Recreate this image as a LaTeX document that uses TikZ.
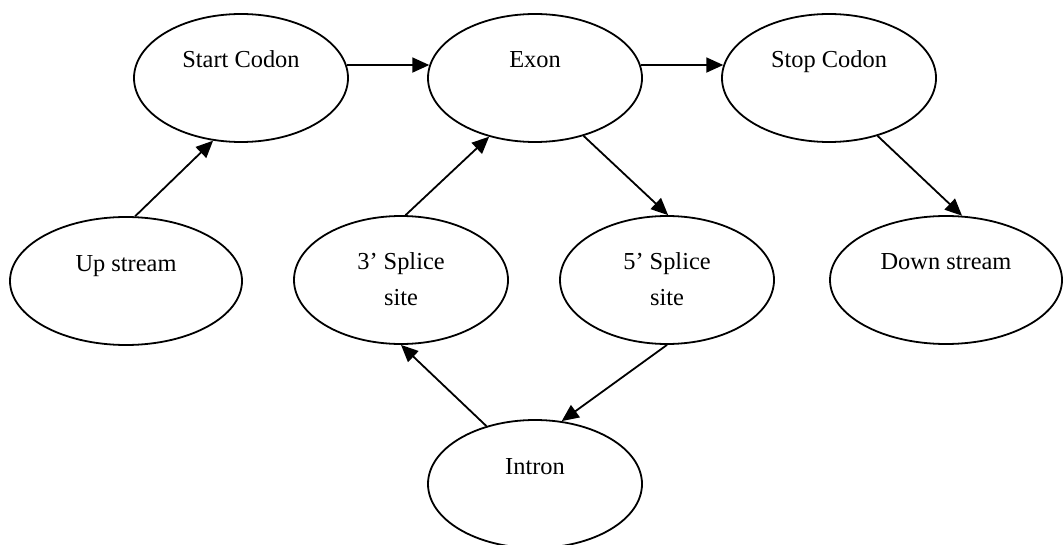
\documentclass[tikz,border=0pt]{standalone}
\usepackage{fontspec}
\setmainfont{Liberation Serif}
\usetikzlibrary{shapes.geometric,arrows.meta}
\begin{document}
\begin{tikzpicture}[x=0.5pt,y=-0.5pt,
  state/.style={draw, ellipse, line width=0.9pt, inner sep=0pt,
    minimum width=107pt, minimum height=64pt},
  wide/.style={minimum width=116pt},
  caption/.style={anchor=base, align=center, inner sep=0pt,
    font=\fontsize{12.2pt}{17.5pt}\selectfont},
  link/.style={line width=0.9pt, -{Triangle[length=8.5pt,width=7.5pt]}}]
  \useasboundingbox (0,0) rectangle (1064,545);
  \clip (0,0) rectangle (1064,545);

  % states
  \node[state] (start) at (241,78) {};
  \node[state] (exon)  at (535,78) {};
  \node[state] (stop)  at (829,78) {};
  \node[state,wide] (up)   at (126,281) {};
  \node[state] (three) at (401,280) {};
  \node[state] (five)  at (667,280) {};
  \node[state,wide] (down) at (946,280) {};
  \node[state] (intron) at (535,484) {};

  % captions, set from the top of each ellipse
  % (a two-line caption is placed by the baseline of its last line)
  \node[caption] (startT)  at ([yshift=5pt]start.center)  {Start Codon};
  \node[caption] (exonT)   at ([yshift=5pt]exon.center)   {Exon};
  \node[caption] (stopT)   at ([yshift=5pt]stop.center)   {Stop Codon};
  \node[caption] (upT)     at ([yshift=5pt]up.center)     {Up stream};
  \node[caption] (threeT)  at ([yshift=-12.5pt]three.center) {3’ Splice\\site};
  \node[caption] (fiveT)   at ([yshift=-12.5pt]five.center)  {5’ Splice\\site};
  \node[caption] (downT)   at ([yshift=5pt]down.center)   {Down stream};
  \node[caption] (intronT) at ([yshift=5pt]intron.center) {Intron};

  % transitions
  \draw[link] (up.82)     -- (start.246);
  \draw[link] (start.7)   -- (exon.173);
  \draw[link] (exon.7)    -- (stop.173);
  \draw[link] (three.86)  -- (exon.232);
  \draw[link] (exon.310)  -- (five.89);
  \draw[link] (stop.310)  -- (down.76);
  \draw[link] (five.270)  -- (intron.67);
  \draw[link] (intron.130) -- (three.270);
\end{tikzpicture}
\end{document}
